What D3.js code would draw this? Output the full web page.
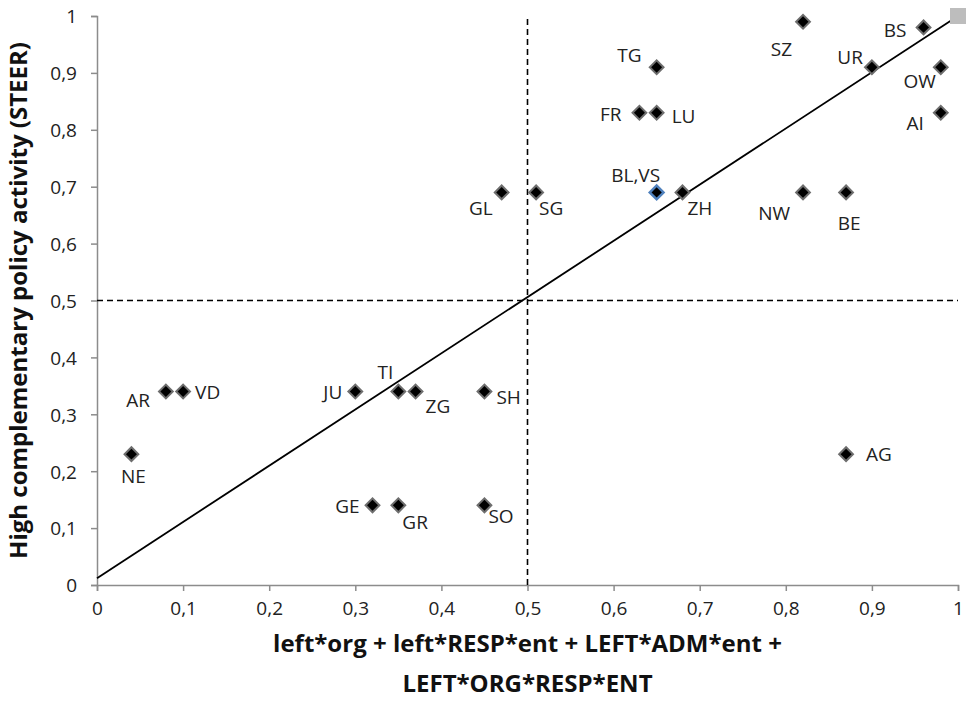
<!DOCTYPE html>
<html lang="en">
  <head>
    <meta charset="UTF-8" />
    <title>STEER vs configuration score</title>
    <script src="https://d3js.org/d3.v7.min.js"></script>
    <style>
      body {
        margin: 0;
        background: #fff;
      }
      svg text {
        font-family: "Open Sans", "Lato", sans-serif;
        fill: #111;
      }
      .tick text {
        font-size: 19px;
        fill: #222;
      }
      .point-label {
        font-size: 19px;
        fill: #222;
      }
      .axis-title {
        font-size: 24px;
        font-weight: bold;
      }
    </style>
  </head>
  <body>
    <svg id="chart" width="966" height="707"></svg>

    <script>
      // cantons and their scores
      const cantons = ["AR", "VD", "NE", "JU", "TI", "ZG", "SH", "GE", "GR", "SO",
        "GL", "SG", "BL,VS", "ZH", "TG", "FR", "LU", "SZ", "BS", "UR", "OW", "AI",
        "NW", "BE", "AG"];
      const xValues = [0.08, 0.10, 0.04, 0.30, 0.35, 0.37, 0.45, 0.32, 0.35, 0.45,
        0.47, 0.51, 0.65, 0.68, 0.65, 0.63, 0.65, 0.82, 0.96, 0.90, 0.98, 0.98,
        0.82, 0.87, 0.87];
      const yValues = [0.34, 0.34, 0.23, 0.34, 0.34, 0.34, 0.34, 0.14, 0.14, 0.14,
        0.69, 0.69, 0.69, 0.69, 0.91, 0.83, 0.83, 0.99, 0.98, 0.91, 0.91, 0.83,
        0.69, 0.69, 0.23];
      const highlighted = ["BL,VS"];

      // diagonal reference line
      const lineX = [0, 1];
      const lineY = [0.012, 1];

      const tickValues = [0, 0.1, 0.2, 0.3, 0.4, 0.5, 0.6, 0.7, 0.8, 0.9, 1];
      const xTitle = ["left*org + left*RESP*ent + LEFT*ADM*ent +", "LEFT*ORG*RESP*ENT"];
      const yTitle = "High complementary policy activity (STEER)";

      const data = cantons.map((c, i) => ({ name: c, x: xValues[i], y: yValues[i] }));

      // where each label sits relative to its marker
      const labelOffset = {
        AR: [-16, 15, "end"], VD: [12, 7, "start"], NE: [2, 29, "middle"],
        JU: [-13, 7, "end"], TI: [-13, -13, "middle"], ZG: [10, 21, "start"],
        SH: [12, 12, "start"], GE: [-13, 8, "end"], GR: [4, 24, "start"],
        SO: [4, 18, "start"], GL: [-9, 23, "end"], SG: [3, 23, "start"],
        "BL,VS": [-21, -10, "middle"], ZH: [5, 23, "start"], TG: [-15, -5, "end"],
        FR: [-18, 8, "end"], LU: [15, 10, "start"], SZ: [-11, 34, "end"],
        BS: [-17, 10, "end"], UR: [-9, -3, "end"], OW: [-5, 21, "end"],
        AI: [-17, 17, "end"], NW: [-13, 28, "end"], BE: [3, 38, "middle"],
        AG: [20, 7, "start"]
      };

      const svg = d3.select("#chart");
      const plotLeft = 97, plotRight = 958, plotTop = 16, plotBottom = 585;

      const x = d3.scaleLinear().domain([0, 1]).range([plotLeft, plotRight]);
      const y = d3.scaleLinear().domain([0, 1]).range([plotBottom, plotTop]);
      const fmt = (d) => String(d3.format("~g")(d)).replace(".", ",");

      // axes
      const xAxis = svg.append("g")
        .attr("transform", `translate(0,${plotBottom})`)
        .call(d3.axisBottom(x).tickValues(tickValues).tickFormat(fmt).tickSize(6).tickPadding(13));
      const yAxis = svg.append("g")
        .attr("transform", `translate(${plotLeft},0)`)
        .call(d3.axisLeft(y).tickValues(tickValues).tickFormat(fmt).tickSize(6).tickPadding(14));
      [xAxis, yAxis].forEach((a) => {
        a.selectAll("path, line").attr("stroke", "#8c8c8c").attr("stroke-width", 1.5);
        a.selectAll("text").attr("font-family", null).attr("font-size", null);
      });
      xAxis.selectAll("text").attr("dy", "0.6em");
      yAxis.selectAll("text").attr("dy", "0.36em");

      // quadrant dividers
      svg.append("line")
        .attr("x1", x(0.5)).attr("x2", x(0.5)).attr("y1", y(0)).attr("y2", y(1))
        .attr("stroke", "#000").attr("stroke-width", 1.6).attr("stroke-dasharray", "6,4");
      svg.append("line")
        .attr("x1", x(0)).attr("x2", x(1)).attr("y1", y(0.5)).attr("y2", y(0.5))
        .attr("stroke", "#000").attr("stroke-width", 1.6).attr("stroke-dasharray", "6,4");

      // diagonal
      svg.append("path")
        .datum(lineX.map((d, i) => [d, lineY[i]]))
        .attr("fill", "none")
        .attr("stroke", "#000")
        .attr("stroke-width", 1.8)
        .attr("d", d3.line().x((d) => x(d[0])).y((d) => y(d[1])));
      svg.append("rect")
        .attr("x", x(1) - 8).attr("y", y(1) - 8)
        .attr("width", 16).attr("height", 16)
        .attr("fill", "#bdbdbd");

      // markers
      const diamond = d3.symbol().type(d3.symbolSquare).size(95);
      svg.selectAll(".pt")
        .data(data)
        .enter()
        .append("path")
        .attr("class", "pt")
        .attr("d", diamond)
        .attr("transform", (d) => `translate(${x(d.x)},${y(d.y)}) rotate(45)`)
        .attr("fill", "#000")
        .attr("stroke", (d) => (highlighted.includes(d.name) ? "#4f81bd" : "#6e6e6e"))
        .attr("stroke-width", (d) => (highlighted.includes(d.name) ? 2.5 : 2));

      svg.selectAll(".point-label")
        .data(data)
        .enter()
        .append("text")
        .attr("class", "point-label")
        .attr("x", (d) => x(d.x) + labelOffset[d.name][0])
        .attr("y", (d) => y(d.y) + labelOffset[d.name][1])
        .attr("text-anchor", (d) => labelOffset[d.name][2])
        .text((d) => d.name);

      // axis titles
      svg.append("text")
        .attr("class", "axis-title")
        .attr("transform", `translate(27,${(plotTop + plotBottom) / 2}) rotate(-90)`)
        .attr("text-anchor", "middle")
        .text(yTitle);
      xTitle.forEach((t, i) => {
        svg.append("text")
          .attr("class", "axis-title")
          .attr("x", (plotLeft + plotRight) / 2)
          .attr("y", 652 + i * 40)
          .attr("text-anchor", "middle")
          .text(t);
      });
    </script>
  </body>
</html>
